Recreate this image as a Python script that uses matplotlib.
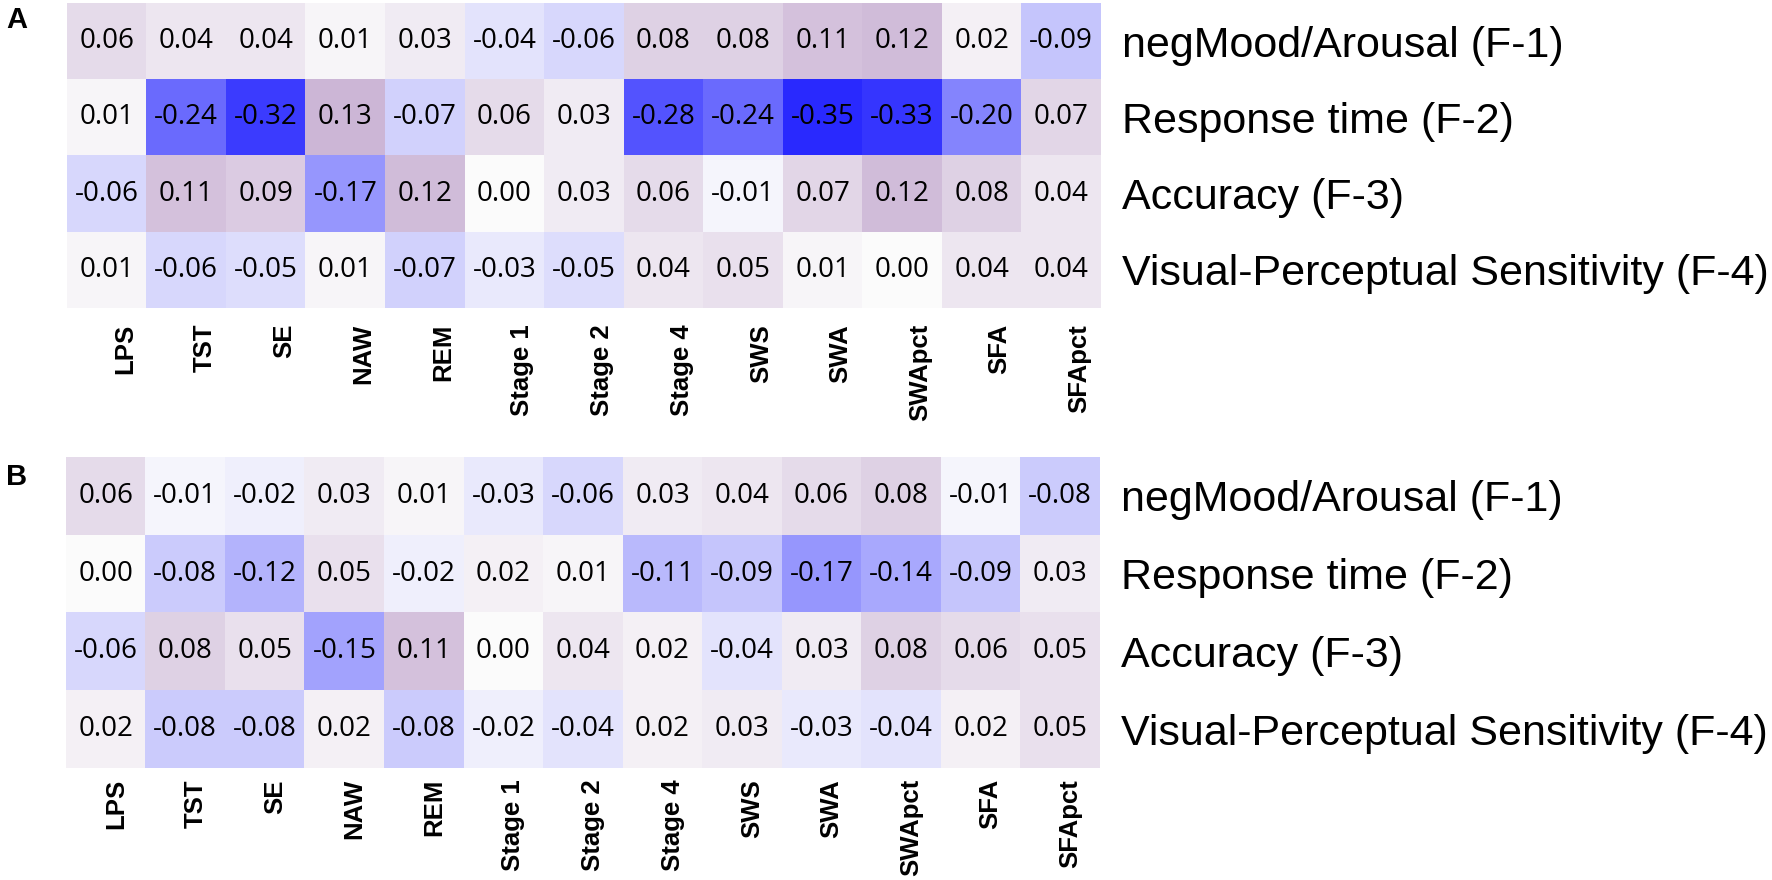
import numpy as np
import matplotlib
matplotlib.use("Agg")
import matplotlib.pyplot as plt
from matplotlib.colors import LinearSegmentedColormap, Normalize
from matplotlib.transforms import ScaledTranslation

# data
sleep_vars = ["LPS", "TST", "SE", "NAW", "REM", "Stage 1", "Stage 2", "Stage 4",
              "SWS", "SWA", "SWApct", "SFA", "SFApct"]
factors = ["negMood/Arousal (F-1)", "Response time (F-2)", "Accuracy (F-3)",
           "Visual-Perceptual Sensitivity (F-4)"]

corr_a = [
    [0.06, 0.04, 0.04, 0.01, 0.03, -0.04, -0.06, 0.08, 0.08, 0.11, 0.12, 0.02, -0.09],
    [0.01, -0.24, -0.32, 0.13, -0.07, 0.06, 0.03, -0.28, -0.24, -0.35, -0.33, -0.20, 0.07],
    [-0.06, 0.11, 0.09, -0.17, 0.12, 0.00, 0.03, 0.06, -0.01, 0.07, 0.12, 0.08, 0.04],
    [0.01, -0.06, -0.05, 0.01, -0.07, -0.03, -0.05, 0.04, 0.05, 0.01, 0.00, 0.04, 0.04],
]
corr_b = [
    [0.06, -0.01, -0.02, 0.03, 0.01, -0.03, -0.06, 0.03, 0.04, 0.06, 0.08, -0.01, -0.08],
    [0.00, -0.08, -0.12, 0.05, -0.02, 0.02, 0.01, -0.11, -0.09, -0.17, -0.14, -0.09, 0.03],
    [-0.06, 0.08, 0.05, -0.15, 0.11, 0.00, 0.04, 0.02, -0.04, 0.03, 0.08, 0.06, 0.05],
    [0.02, -0.08, -0.08, 0.02, -0.08, -0.02, -0.04, 0.02, 0.03, -0.03, -0.04, 0.02, 0.05],
]

# blue (neg) -> white -> purple (pos)
cmap = LinearSegmentedColormap.from_list(
    "bwp", [(0.0, "#0000ff"), (0.5, "#fcfcfc"), (1.0, "#641d84")])
norm = Normalize(vmin=-0.42, vmax=0.42)

W, H = 1772, 880
fig = plt.figure(figsize=(W / 100, H / 100), dpi=100)


def panel(rect, values, letter, letter_y, label_dx, pad):
    ax = fig.add_axes(rect)
    vals = np.array(values)
    ax.imshow(vals, cmap=cmap, norm=norm, aspect="auto", interpolation="nearest")
    for i in range(vals.shape[0]):
        for j in range(vals.shape[1]):
            ax.text(j, i, f"{vals[i, j]:.2f}", ha="center", va="center",
                    fontsize=20, family="Open Sans", color="black")
    ax.set_xticks(range(len(sleep_vars)))
    ax.set_xticklabels(sleep_vars, rotation=90, fontsize=18.5,
                       fontweight="bold", family="Liberation Sans")
    ax.set_yticks(range(len(factors)))
    ax.set_yticklabels(factors, fontsize=31, family="Liberation Sans")
    ax.yaxis.tick_right()
    ax.tick_params(axis="x", length=0, pad=pad)
    ax.tick_params(axis="y", length=0, pad=15)
    off = ScaledTranslation(label_dx / 100, 0, fig.dpi_scale_trans)
    for lbl in ax.get_xticklabels():
        lbl.set_transform(lbl.get_transform() + off)
    for s in ax.spines.values():
        s.set_visible(False)
    fig.text(6 / W, 1 - letter_y / H, letter, ha="left", va="top",
             fontsize=21, fontweight="bold", family="Liberation Sans")
    return ax


panel([67 / W, 1 - 308 / H, 1034 / W, 305 / H], corr_a, "A", 6, 18, 11.5)
panel([66 / W, 1 - 768 / H, 1034 / W, 311 / H], corr_b, "B", 463, 10, 8)

fig.savefig("out.png", dpi=100)
